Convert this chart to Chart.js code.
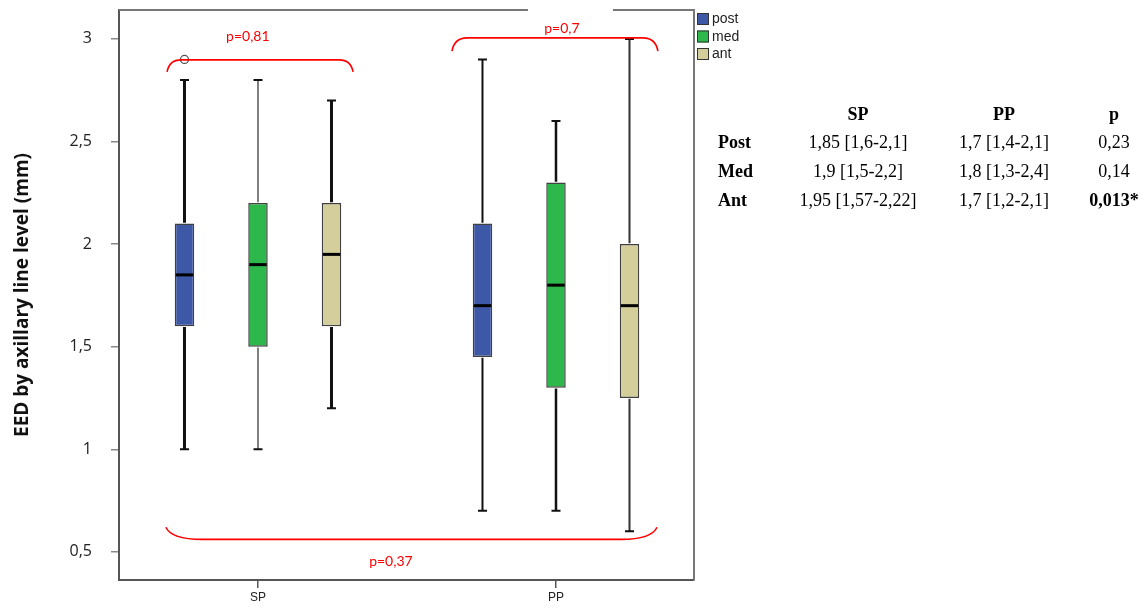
<!DOCTYPE html>
<html>
<head>
<meta charset="utf-8">
<script src="https://cdn.jsdelivr.net/npm/chart.js@4.4.1/dist/chart.umd.min.js"></script>
<style>
html,body{margin:0;padding:0;background:#fff;}
#wrap{width:1146px;height:608px;position:relative;}
</style>
</head>
<body>
<div id="wrap"><canvas id="c" width="1146" height="608"></canvas></div>
<script>
// ---------- data ----------
const groups = ['SP', 'PP'];
const seriesNames = ['post', 'med', 'ant'];

const postMin    = [1.0, 0.7];
const postQ1     = [1.6, 1.45];
const postMedian = [1.85, 1.7];
const postQ3     = [2.1, 2.1];
const postMax    = [2.8, 2.9];

const medMin    = [1.0, 0.7];
const medQ1     = [1.5, 1.3];
const medMedian = [1.9, 1.8];
const medQ3     = [2.2, 2.3];
const medMax    = [2.8, 2.6];

const antMin    = [1.2, 0.6];
const antQ1     = [1.6, 1.25];
const antMedian = [1.95, 1.7];
const antQ3     = [2.2, 2.0];
const antMax    = [2.7, 3.0];

// outliers: series index, group index, value
const outlierSeries = [0];
const outlierGroup  = [0];
const outlierValue  = [2.9];

const yTicks = [0.5, 1, 1.5, 2, 2.5, 3];

// significance brackets (x in group units, y in mm)
const bracketFrom  = [-0.305, 0.651, -0.309];
const bracketTo    = [0.319, 1.342, 1.339];
const bracketLine  = [2.898, 3.005, 0.561];
const bracketTip   = [2.839, 2.940, 0.620];
const bracketText  = ['p=0,81', 'p=0,7', 'p=0,37'];
const bracketTextX = [-0.034, 1.02, 0.446];
const bracketTextY = [3.01, 3.05, 0.454];

// table
const tableHeader    = ['SP', 'PP', 'p'];
const tableRowLabels = ['Post', 'Med', 'Ant'];
const tableSP        = ['1,85 [1,6-2,1]', '1,9 [1,5-2,2]', '1,95 [1,57-2,22]'];
const tablePP        = ['1,7 [1,4-2,1]', '1,8 [1,3-2,4]', '1,7 [1,2-2,1]'];
const tableP         = ['0,23', '0,14', '0,013*'];

// ---------- styles ----------
const fillColors = ['#3E58A8', '#2DB84B', '#D4CF9A'];
const whiskerWidths = [[3, 2], [1.5, 2.5], [3, 2]];
const whiskerColors = [['#111', '#111'], ['#555', '#111'], ['#111', '#333']];
const bracketCorner = [14, 15, 36];
const tablePBold = [false, false, true];

const stats = [
  {min: postMin, q1: postQ1, med: postMedian, q3: postQ3, max: postMax},
  {min: medMin,  q1: medQ1,  med: medMedian,  q3: medQ3,  max: medMax},
  {min: antMin,  q1: antQ1,  med: antMedian,  q3: antQ3,  max: antMax}
];

const datasets = seriesNames.map((name, di) => ({
  label: name,
  data: groups.map((g, gi) => ({x: gi, y: [stats[di].q1[gi], stats[di].q3[gi]]})),
  backgroundColor: fillColors[di],
  borderColor: '#404040',
  borderWidth: 1.5,
  borderSkipped: false,
  categoryPercentage: 0.74,
  barPercentage: 0.265
}));

const extras = {
  id: 'extras',
  afterDatasetsDraw(chart) {
    const ctx = chart.ctx, ys = chart.scales.y;
    stats.forEach((st, di) => {
      const meta = chart.getDatasetMeta(di);
      meta.data.forEach((el, i) => {
        const x = el.x, w = el.width;
        const yQ3 = ys.getPixelForValue(st.q3[i]);
        const yQ1 = ys.getPixelForValue(st.q1[i]);
        const yMax = ys.getPixelForValue(st.max[i]);
        const yMin = ys.getPixelForValue(st.min[i]);
        const yMed = ys.getPixelForValue(st.med[i]);
        ctx.save();
        ctx.strokeStyle = whiskerColors[di][i];
        ctx.lineWidth = whiskerWidths[di][i];
        ctx.beginPath();
        ctx.moveTo(x, yQ3 - 0.75); ctx.lineTo(x, yMax);
        ctx.moveTo(x, yQ1 + 0.75); ctx.lineTo(x, yMin);
        ctx.stroke();
        ctx.strokeStyle = '#111';
        ctx.lineWidth = 2;
        ctx.beginPath();
        ctx.moveTo(x - 4.5, yMax); ctx.lineTo(x + 4.5, yMax);
        ctx.moveTo(x - 4.5, yMin); ctx.lineTo(x + 4.5, yMin);
        ctx.stroke();
        ctx.strokeStyle = '#000';
        ctx.lineWidth = 3;
        ctx.beginPath();
        ctx.moveTo(x - w / 2 + 1, yMed); ctx.lineTo(x + w / 2 - 1, yMed);
        ctx.stroke();
        ctx.restore();
      });
    });
    // outliers
    outlierValue.forEach((v, k) => {
      const el = chart.getDatasetMeta(outlierSeries[k]).data[outlierGroup[k]];
      const y = ys.getPixelForValue(v);
      ctx.save();
      ctx.beginPath();
      ctx.arc(el.x, y, 4, 0, Math.PI * 2);
      ctx.fillStyle = '#fff';
      ctx.fill();
      ctx.strokeStyle = '#555';
      ctx.lineWidth = 1.3;
      ctx.stroke();
      ctx.restore();
    });
  },
  afterDraw(chart) {
    const ctx = chart.ctx, xs = chart.scales.x, ys = chart.scales.y, a = chart.chartArea;
    ctx.save();
    // frame top & right
    ctx.strokeStyle = '#777';
    ctx.lineWidth = 2;
    ctx.beginPath();
    ctx.moveTo(a.left, a.top); ctx.lineTo(a.right, a.top); ctx.lineTo(a.right, a.bottom);
    ctx.stroke();
    // label background for top PP label (covers frame)
    ctx.fillStyle = '#fff';
    const lx1 = xs.getPixelForValue(bracketTextX[1]);
    ctx.fillRect(lx1 - 34, a.top - 3, 85, 8);
    // brackets
    ctx.strokeStyle = '#ff0000';
    ctx.lineWidth = 1.6;
    bracketFrom.forEach((f, k) => {
      const x1 = xs.getPixelForValue(f), x2 = xs.getPixelForValue(bracketTo[k]);
      const yl = ys.getPixelForValue(bracketLine[k]), yt = ys.getPixelForValue(bracketTip[k]);
      const r = bracketCorner[k];
      ctx.beginPath();
      ctx.moveTo(x1, yt);
      ctx.quadraticCurveTo(x1 + r * 0.15, yl, x1 + r, yl);
      ctx.lineTo(x2 - r, yl);
      ctx.quadraticCurveTo(x2 - r * 0.15, yl, x2, yt);
      ctx.stroke();
    });
    ctx.fillStyle = '#ff0000';
    ctx.font = '14px Lato, "Open Sans", sans-serif';
    ctx.textAlign = 'center';
    ctx.textBaseline = 'middle';
    bracketText.forEach((t, k) => {
      ctx.fillText(t, xs.getPixelForValue(bracketTextX[k]), ys.getPixelForValue(bracketTextY[k]));
    });
    // legend
    ctx.font = '14px "Liberation Sans", Arial, sans-serif';
    ctx.textAlign = 'left';
    chart.data.datasets.forEach((ds, i) => {
      const top = 13 + i * 17.5;
      ctx.fillStyle = ds.backgroundColor;
      ctx.fillRect(697, top, 12, 12);
      ctx.strokeStyle = '#333';
      ctx.lineWidth = 1;
      ctx.strokeRect(697.5, top + 0.5, 11, 11);
      ctx.fillStyle = '#222';
      ctx.fillText(ds.label, 712, top + 6.5);
    });
    // table
    const colX = [858, 1004, 1114];
    const rowY = [143, 172, 201];
    ctx.fillStyle = '#000';
    ctx.textAlign = 'center';
    ctx.font = 'bold 18px "Liberation Serif", "Times New Roman", serif';
    tableHeader.forEach((h, c) => ctx.fillText(h, colX[c], 115));
    tableRowLabels.forEach((r, k) => {
      ctx.textAlign = 'left';
      ctx.font = 'bold 18px "Liberation Serif", "Times New Roman", serif';
      ctx.fillText(r, 718, rowY[k]);
      ctx.textAlign = 'center';
      ctx.font = '18px "Liberation Serif", "Times New Roman", serif';
      ctx.fillText(tableSP[k], colX[0], rowY[k]);
      ctx.fillText(tablePP[k], colX[1], rowY[k]);
      ctx.font = (tablePBold[k] ? 'bold ' : '') + '18px "Liberation Serif", "Times New Roman", serif';
      ctx.fillText(tableP[k], colX[2], rowY[k]);
    });
    ctx.restore();
  }
};

new Chart(document.getElementById('c'), {
  type: 'bar',
  data: {datasets},
  options: {
    responsive: false,
    animation: false,
    devicePixelRatio: 1,
    layout: {padding: {top: 10, right: 452, left: 0, bottom: 0}},
    plugins: {legend: {display: false}, tooltip: {enabled: false}},
    scales: {
      x: {
        type: 'linear',
        offset: false,
        min: -0.4664,
        max: 1.4631,
        afterBuildTicks: s => { s.ticks = groups.map((g, i) => ({value: i})); },
        afterFit: s => { s.height = 28; s.paddingLeft = 0; s.paddingRight = 0; s.paddingTop = 0; s.paddingBottom = 0; },
        grid: {display: true, drawOnChartArea: false, offset: false, tickLength: 8, color: '#555', lineWidth: 1.5},
        border: {display: true, color: '#555', width: 2},
        ticks: {
          callback: (v, i) => groups[i],
          font: {family: '"Liberation Sans", Arial, sans-serif', size: 12},
          color: '#222',
          padding: 2,
          maxRotation: 0
        }
      },
      y: {
        type: 'linear',
        min: 0.363,
        max: 3.141,
        afterBuildTicks: s => { s.ticks = yTicks.map(v => ({value: v})); },
        afterFit: s => { s.width = 119; s.paddingTop = 0; s.paddingBottom = 0; s.paddingLeft = 0; s.paddingRight = 0; },
        grid: {display: true, drawOnChartArea: false, tickLength: 8, color: '#888', lineWidth: 1.5},
        border: {display: true, color: '#555', width: 2},
        ticks: {
          callback: v => String(v).replace('.', ','),
          font: {family: '"Open Sans", sans-serif', size: 16},
          color: '#222',
          padding: 19
        },
        title: {
          display: true,
          text: 'EED by axillary line level (mm)',
          font: {family: '"Open Sans", sans-serif', size: 19, weight: 'bold'},
          color: '#111',
          padding: {top: 11, bottom: 0}
        }
      }
    }
  },
  plugins: [extras]
});
</script>
</body>
</html>
